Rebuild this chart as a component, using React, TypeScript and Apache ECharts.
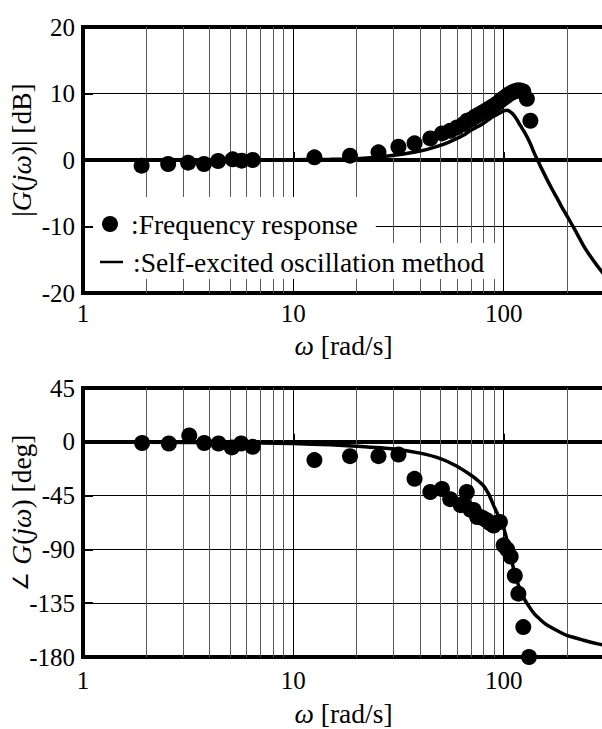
import React, { useEffect, useRef } from 'react';
import * as echarts from 'echarts';

// ---- Data ----
// Magnitude: measured frequency response points
const magOmega = [1.9, 2.54, 3.16, 3.76, 4.39, 5.15, 5.68, 6.41, 12.6, 18.6, 25.4, 31.6, 37.7, 44.8, 50.9, 55.7, 60, 64.5, 67, 70, 73, 76, 79, 82, 85, 88, 91, 94, 97, 100, 103, 106, 109, 112, 115, 118, 121, 124, 129, 134];
const magDb = [-0.85, -0.6, -0.4, -0.6, -0.15, 0.1, -0.1, 0.0, 0.4, 0.65, 1.15, 2.0, 2.5, 3.25, 4.0, 4.4, 4.9, 5.4, 5.9, 6.1, 6.5, 6.8, 7.1, 7.4, 7.7, 8.0, 8.3, 8.6, 9.0, 9.3, 9.6, 9.9, 10.1, 10.3, 10.4, 10.5, 10.4, 10.3, 9.2, 5.9];

// Magnitude: self-excited oscillation method curve
const magLineOmega = [1, 2, 5, 10, 15, 20, 25, 30, 35, 40, 45, 50, 55, 60, 65, 70, 75, 80, 85, 90, 95, 100, 104, 108, 112, 116, 120, 125, 130, 135, 140, 150, 160, 170, 180, 190, 200, 220, 240, 260, 280, 300];
const magLineDb = [0, 0, 0.02, 0.05, 0.1, 0.2, 0.4, 0.7, 1.0, 1.35, 1.75, 2.2, 2.7, 3.25, 3.8, 4.5, 5.0, 5.5, 6.1, 6.6, 7.0, 7.4, 7.5, 7.2, 6.7, 6.0, 5.2, 4.3, 3.3, 2.2, 1.0, -1.0, -2.8, -4.4, -5.8, -7.2, -8.4, -10.7, -12.9, -14.6, -16.0, -17.2];

// Phase: measured frequency response points
const phOmega = [1.91, 2.56, 3.2, 3.77, 4.41, 5.1, 5.65, 6.41, 12.6, 18.6, 25.4, 31.6, 37.7, 44.8, 50.9, 55.7, 62.5, 64.5, 66.8, 69.7, 72, 74.8, 77.6, 80, 83, 86, 89.6, 92, 96, 100, 104, 108, 113, 117.5, 124, 132];
const phDeg = [-1, -1.4, 5.3, -1, -1.4, -4.7, -1.4, -4.2, -15.3, -12, -12, -10.6, -31, -42, -39.5, -48, -53, -51.6, -42, -57, -57, -63, -63, -64, -65.6, -68, -70, -68, -67, -86.6, -90, -96, -112, -127, -155, -180];

// Phase: self-excited oscillation method curve
const phLineOmega = [1, 2, 5, 10, 15, 20, 30, 40, 50, 60, 70, 75, 80, 85, 90, 95, 100, 105, 110, 115, 120, 125, 130, 140, 150, 160, 180, 200, 240, 280, 300];
const phLineDeg = [0, -0.3, -0.8, -1.5, -2.5, -3.7, -6, -9.5, -14, -20.5, -28, -32, -36.5, -44, -54, -63, -72, -86, -102, -115, -124, -131, -136, -144, -149, -153, -158, -162, -166, -169, -170];

// Axes
const xRange = [1, 300];
const magTicks = [-20, -10, 0, 10, 20];
const phTicks = [-180, -135, -90, -45, 0, 45];
const minorGrid = [2, 3, 4, 5, 6, 7, 8, 9, 20, 30, 40, 50, 60, 70, 80, 90, 200];

const seriesNames = ['Frequency response', 'Self-excited oscillation method'];

const FONT = "'Liberation Serif', 'Times New Roman', serif";
const NAME_SIZE = 27.5;
const TICK_SIZE = 25;

const zip = (a: number[], b: number[]) => a.map((v, i) => [v, b[i]]);

const richName = {
  i: { fontFamily: FONT, fontSize: NAME_SIZE, fontStyle: 'italic', color: '#000' },
  a: { fontFamily: FONT, fontSize: 21, color: '#000' },
};

function xAxisFor(gridIndex: number, labelMargin: number, nameGap: number) {
  return {
    type: 'log',
    logBase: 10,
    gridIndex,
    min: xRange[0],
    max: xRange[1],
    name: '{i|ω} [rad/s]',
    nameLocation: 'middle',
    nameGap,
    nameMoveOverlap: false,
    nameTextStyle: { fontFamily: FONT, fontSize: NAME_SIZE, color: '#000', rich: richName },
    axisLine: { show: true, lineStyle: { color: '#000', width: 4 } },
    axisTick: { show: true, inside: true, length: 8, lineStyle: { color: '#000', width: 2 } },
    axisLabel: {
      margin: labelMargin,
      showMaxLabel: false,
      fontFamily: FONT,
      fontSize: TICK_SIZE,
      color: '#000',
    },
    splitLine: { show: true, lineStyle: { color: '#000', width: 1 } },
  };
}

function yAxisFor(gridIndex: number, ticks: number[], name: string) {
  return {
    type: 'value',
    gridIndex,
    min: ticks[0],
    max: ticks[ticks.length - 1],
    interval: ticks[1] - ticks[0],
    name,
    nameLocation: 'middle',
    nameRotate: 90,
    nameGap: 48,
    nameMoveOverlap: false,
    nameTextStyle: {
      fontFamily: FONT,
      fontSize: NAME_SIZE,
      color: '#000',
      padding: [0, 0, 0, 20],
      rich: richName,
    },
    axisLine: { show: true, lineStyle: { color: '#000', width: 4 } },
    axisTick: { show: true, inside: true, length: 10, lineStyle: { color: '#000', width: 2 } },
    axisLabel: { margin: 8, fontFamily: FONT, fontSize: TICK_SIZE, color: '#000' },
    splitLine: { show: true, lineStyle: { color: '#000', width: 1 } },
  };
}

function minorMarkLine() {
  return {
    silent: true,
    symbol: 'none',
    z: 1,
    label: { show: false },
    emphasis: { disabled: true },
    lineStyle: { color: '#5a5a5a', width: 1, type: 'solid' },
    data: minorGrid.map((v) => ({ xAxis: v })),
  };
}

export default function App() {
  const ref = useRef<HTMLDivElement>(null);
  useEffect(() => {
    const chart = echarts.init(ref.current!, null, { renderer: 'svg' });
    const option: any = {
      animation: false,
      backgroundColor: '#fff',
      grid: [
        { left: 83, top: 27, width: 521, height: 266, show: true, borderColor: '#000', borderWidth: 4, backgroundColor: 'transparent', containLabel: false, outerBoundsMode: 'none' },
        { left: 83, top: 388, width: 521, height: 269, show: true, borderColor: '#000', borderWidth: 4, backgroundColor: 'transparent', containLabel: false, outerBoundsMode: 'none' },
      ],
      xAxis: [xAxisFor(0, 8, 38), xAxisFor(1, 11, 42)],
      yAxis: [
        yAxisFor(0, magTicks, '|{i|G}({i|j}{i|ω})| [dB]'),
        yAxisFor(1, phTicks, '{a|∠} {i|G}({i|j}{i|ω}) [deg]'),
      ],
      legend: [
        {
          data: [seriesNames[0]],
          left: 93,
          top: 197,
          padding: [13, 18, 5, 9],
          backgroundColor: '#fff',
          icon: 'circle',
          itemWidth: 16,
          itemHeight: 16,
          selectedMode: false,
          formatter: ':{name}',
          textStyle: { fontFamily: FONT, fontSize: NAME_SIZE, color: '#000', padding: [0, 0, 0, 8] },
        },
        {
          data: [seriesNames[1]],
          left: 93,
          top: 243,
          padding: [5, 12, 3, 7],
          backgroundColor: '#fff',
          icon: 'rect',
          itemWidth: 23,
          itemHeight: 2.5,
          selectedMode: false,
          formatter: ':{name}',
          textStyle: { fontFamily: FONT, fontSize: NAME_SIZE, color: '#000', padding: [0, 0, 0, 5] },
        },
      ],
      series: [
        {
          name: seriesNames[0],
          type: 'scatter',
          xAxisIndex: 0,
          yAxisIndex: 0,
          symbol: 'circle',
          symbolSize: 16,
          itemStyle: { color: '#000', opacity: 1 },
          data: zip(magOmega, magDb),
          markLine: minorMarkLine(),
        },
        {
          name: seriesNames[1],
          type: 'line',
          xAxisIndex: 0,
          yAxisIndex: 0,
          showSymbol: false,
          smooth: 0.2,
          itemStyle: { color: '#000' },
          lineStyle: { color: '#000', width: 3.5 },
          data: zip(magLineOmega, magLineDb),
        },
        {
          name: seriesNames[0],
          type: 'scatter',
          xAxisIndex: 1,
          yAxisIndex: 1,
          symbol: 'circle',
          symbolSize: 16,
          itemStyle: { color: '#000', opacity: 1 },
          data: zip(phOmega, phDeg),
          markLine: minorMarkLine(),
        },
        {
          name: seriesNames[1],
          type: 'line',
          xAxisIndex: 1,
          yAxisIndex: 1,
          showSymbol: false,
          smooth: 0.2,
          itemStyle: { color: '#000' },
          lineStyle: { color: '#000', width: 3.5 },
          data: zip(phLineOmega, phLineDeg),
        },
      ],
    };
    chart.setOption(option);
    return () => chart.dispose();
  }, []);
  return <div ref={ref} style={{ position: 'absolute', left: 0, top: 0, width: 602, height: 729 }} />;
}
